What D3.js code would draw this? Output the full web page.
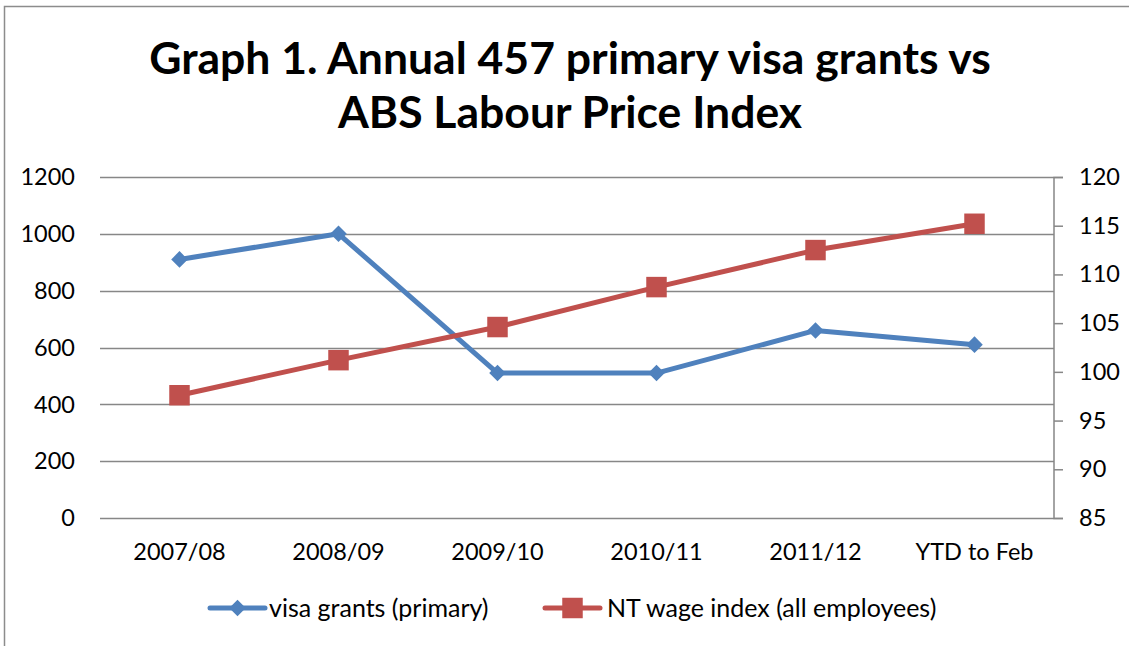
<!DOCTYPE html>
<html>
<head>
<meta charset="utf-8">
<script src="https://cdn.jsdelivr.net/npm/d3@7"></script>
<style>
  html, body { margin: 0; padding: 0; background: #fff; }
  svg { display: block; font-family: Lato, "Open Sans", sans-serif; }
</style>
</head>
<body>
<div id="chart"></div>
<script>
const categories = ['2007/08', '2008/09', '2009/10', '2010/11', '2011/12', 'YTD to Feb'];
const visaGrants = [910, 1000, 510, 510, 660, 610];
const wageIndex = [97.6, 101.2, 104.6, 108.7, 112.5, 115.2];
const leftTicks = [0, 200, 400, 600, 800, 1000, 1200];
const rightTicks = [85, 90, 95, 100, 105, 110, 115, 120];
const titleLines = ['Graph 1. Annual 457 primary visa grants vs', 'ABS Labour Price Index'];
const seriesNames = ['visa grants (primary)', 'NT wage index (all employees)'];

const width = 1129, height = 646;
const plot = { left: 100, right: 1054, top: 177, bottom: 518 };
const blue = '#4F81BD', red = '#C0504D', grid = '#878787';
const tickFont = 23.5;

const svg = d3.select('#chart').append('svg')
  .attr('width', width)
  .attr('height', height);

// outer frame
svg.append('path')
  .attr('d', `M4.5,${height} V6.5 H${width}`)
  .attr('fill', 'none')
  .attr('stroke', '#8c8c8c')
  .attr('stroke-width', 1.5);

// title
svg.append('g')
  .selectAll('text')
  .data(titleLines)
  .join('text')
  .attr('x', 570)
  .attr('y', (d, i) => 74 + i * 54)
  .attr('text-anchor', 'middle')
  .attr('font-size', 44.5)
  .attr('font-weight', 700)
  .attr('fill', '#000')
  .text(d => d);

const x = d3.scaleBand().domain(categories).range([plot.left, plot.right]);
const yLeft = d3.scaleLinear().domain([0, 1200]).range([plot.bottom, plot.top]);
const yRight = d3.scaleLinear().domain([85, 120]).range([plot.bottom, plot.top]);
const cx = d => x(d) + x.bandwidth() / 2;

// gridlines
svg.append('g')
  .selectAll('line')
  .data(leftTicks)
  .join('line')
  .attr('x1', plot.left)
  .attr('x2', plot.right)
  .attr('y1', d => Math.round(yLeft(d)) + 0.5)
  .attr('y2', d => Math.round(yLeft(d)) + 0.5)
  .attr('stroke', grid)
  .attr('stroke-width', 1.5);

// left axis labels
svg.append('g')
  .selectAll('text')
  .data(leftTicks)
  .join('text')
  .attr('x', 75)
  .attr('y', d => yLeft(d))
  .attr('dy', '0.35em')
  .attr('text-anchor', 'end')
  .attr('font-size', tickFont)
  .attr('fill', '#000')
  .text(d => d);

// right axis
const rightAxis = d3.axisRight(yRight)
  .tickValues(rightTicks)
  .tickSize(9)
  .tickPadding(16);
const ra = svg.append('g')
  .attr('transform', `translate(${plot.right},0)`)
  .call(rightAxis);
ra.select('.domain').attr('stroke', grid).attr('stroke-width', 1.5).attr('d', `M9,${plot.bottom + 0.5}H0V${plot.top + 0.5}H9`);
ra.selectAll('.tick line').attr('stroke', grid).attr('stroke-width', 1.5);
ra.selectAll('.tick text')
  .attr('font-size', tickFont)
  .attr('font-family', 'Lato, "Open Sans", sans-serif')
  .attr('fill', '#000');

// category labels
svg.append('g')
  .selectAll('text')
  .data(categories)
  .join('text')
  .attr('x', d => cx(d))
  .attr('y', 560)
  .attr('text-anchor', 'middle')
  .attr('font-size', tickFont)
  .attr('fill', '#000')
  .text(d => d);

const diamond = d3.symbol().type(d3.symbolDiamond2).size(175);
const square = d3.symbol().type(d3.symbolSquare).size(420);

// visa grants line
const visaLine = d3.line().x((d, i) => cx(categories[i])).y(d => yLeft(d));
svg.append('path')
  .datum(visaGrants)
  .attr('d', visaLine)
  .attr('fill', 'none')
  .attr('stroke', blue)
  .attr('stroke-width', 5)
  .attr('stroke-linejoin', 'round');

// wage index line
const wageLine = d3.line().x((d, i) => cx(categories[i])).y(d => yRight(d));
svg.append('path')
  .datum(wageIndex)
  .attr('d', wageLine)
  .attr('fill', 'none')
  .attr('stroke', red)
  .attr('stroke-width', 5)
  .attr('stroke-linejoin', 'round');

svg.append('g')
  .selectAll('path')
  .data(visaGrants)
  .join('path')
  .attr('d', diamond)
  .attr('transform', (d, i) => `translate(${cx(categories[i])},${yLeft(d)})`)
  .attr('fill', blue);

svg.append('g')
  .selectAll('path')
  .data(wageIndex)
  .join('path')
  .attr('d', square)
  .attr('transform', (d, i) => `translate(${cx(categories[i])},${yRight(d)})`)
  .attr('fill', red);

// legend
const legend = [
  { name: seriesNames[0], color: blue, symbol: diamond, x0: 210, tx: 59 },
  { name: seriesNames[1], color: red, symbol: square, x0: 545, tx: 62 }
];
const lg = svg.append('g')
  .selectAll('g')
  .data(legend)
  .join('g')
  .attr('transform', d => `translate(${d.x0},608)`);
lg.append('line')
  .attr('x1', 0).attr('x2', 55)
  .attr('stroke', d => d.color)
  .attr('stroke-width', 5)
  .attr('stroke-linecap', 'round');
lg.append('path')
  .attr('d', d => d.symbol())
  .attr('transform', 'translate(27.5,0)')
  .attr('fill', d => d.color);
lg.append('text')
  .attr('x', d => d.tx)
  .attr('dy', '0.35em')
  .attr('font-size', 25)
  .attr('fill', '#000')
  .text(d => d.name);
</script>
</body>
</html>
